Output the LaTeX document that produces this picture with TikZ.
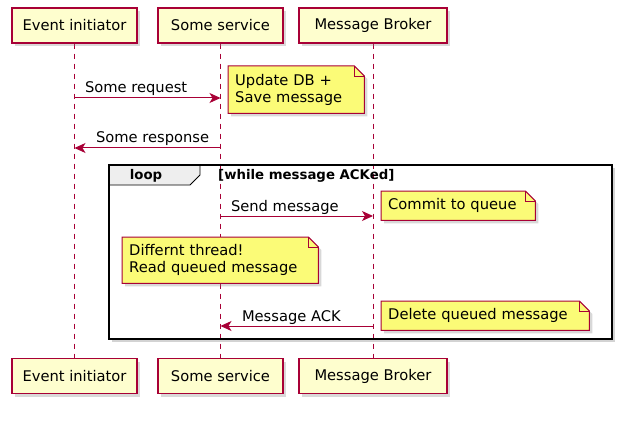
\documentclass[tikz,border=0pt]{standalone}
\usepackage{fontspec}
\setmainfont{DejaVu Sans}
\usetikzlibrary{arrows.meta,shadows,backgrounds}

\definecolor{umlred}{HTML}{A80036}
\definecolor{partfill}{HTML}{FEFECE}
\definecolor{notefill}{HTML}{FBFB77}
\definecolor{tabfill}{HTML}{EEEEEE}

\begin{document}
\begin{tikzpicture}[x=1pt,y=-1pt]

\tikzset{actor/.style={rectangle,draw=umlred,line width=1.2pt,fill=partfill,minimum height=35pt,inner sep=0pt,font=\fontsize{14.7}{17}\selectfont, drop shadow={opacity=0.3,shadow xshift=3pt,shadow yshift=-3pt}},}
\tikzset{mynote/.style={rectangle,anchor=north west,inner xsep=7pt,inner ysep=0pt,align=left,font=\fontsize{14.7}{17}\selectfont},}
\tikzset{notebg/.style={fill=notefill,draw=umlred,line width=1pt,drop shadow={opacity=0.3,shadow xshift=3pt,shadow yshift=-3pt}},}
\tikzset{msg/.style={-{Stealth[length=11pt,width=10pt,inset=3pt]},umlred,line width=1pt},}
\tikzset{msglabel/.style={anchor=base west,inner sep=0pt,font=\fontsize{14.7}{17}\selectfont,text=black},}
\tikzset{lifeline/.style={umlred,line width=1pt,dash pattern=on 5pt off 5pt},}

\useasboundingbox (0,0) rectangle (623,422);

  % participants
  \draw (74.5,25.5) node[actor,minimum width=125pt](initTop) {Event initiator};
  \draw (220.5,25.5) node[actor,minimum width=125pt](svcTop) {Some service};
  \draw (373,25.5) node[actor,minimum width=148pt](brokerTop) {Message Broker};
  \draw (74.5,376) node[actor,minimum width=125pt](initBot) {Event initiator};
  \draw (220.5,376) node[actor,minimum width=125pt](svcBot) {Some service};
  \draw (373,376) node[actor,minimum width=148pt](brokerBot) {Message Broker};

  % notes
  \node[mynote,text width=122pt,minimum height=47pt] (noteDB) at (228,66) {Update DB +\\Save message};
  \node[mynote,text width=140pt,minimum height=29pt] (noteCommit) at (381,191) {Commit to queue};
  \node[mynote,text width=182pt,minimum height=46pt] (noteThread) at (122,237) {Differnt thread!\\Read queued message};
  \node[mynote,text width=194pt,minimum height=29pt] (noteDelete) at (381,301) {Delete queued message};

  % message ends
  \coordinate (reqFrom) at (initTop |- 0,98);
  \coordinate (reqTo) at (svcTop |- 0,98);
  \coordinate (respFrom) at (svcTop |- 0,148);
  \coordinate (respTo) at (initTop |- 0,148);
  \coordinate (sendFrom) at (svcTop |- 0,216);
  \coordinate (sendTo) at (brokerTop |- 0,216);
  \coordinate (ackFrom) at (brokerTop |- 0,326);
  \coordinate (ackTo) at (svcTop |- 0,326);

  %edges
    \draw[msg] (reqFrom) -- (reqTo) node[msglabel,pos=0,xshift=10pt,yshift=5pt] {Some request};
    \draw[msg] (respFrom) -- (respTo) node[msglabel,pos=1,xshift=21pt,yshift=5pt] {Some response};
    \draw[msg] (sendFrom) -- (sendTo) node[msglabel,pos=0,xshift=10pt,yshift=5pt] {Send message};
    \draw[msg] (ackFrom) -- (ackTo) node[msglabel,pos=1,xshift=21pt,yshift=5pt] {Message ACK};

  % loop frame
  \filldraw[fill=tabfill,draw=black,line width=0.8pt] (109,165) -- (200,165) -- (200,175) -- (190,185) -- (109,185) -- cycle;
  \draw[black,line width=2pt] (109,165) rectangle (612,339);
  \node[font=\fontsize{13.3}{15}\selectfont\bfseries] (loopName) at (146,175.5) {loop};
  \node[anchor=west,inner sep=0pt,font=\fontsize{13.3}{15}\selectfont\bfseries] (loopCond) at (218,175.5) {[while message ACKed]};

\begin{pgfonlayer}{background}
  \fill[white,drop shadow={opacity=0.35,shadow xshift=3pt,shadow yshift=-3pt}] (109,165) rectangle (612,339);
  \foreach \p in {init,svc,broker}
    \draw[lifeline] (\p Top.south) -- (\p Bot.north);
  \foreach \n in {noteDB,noteCommit,noteThread,noteDelete}{
    \filldraw[notebg] (\n.south west) -- (\n.north west) -- ([xshift=-10pt]\n.north east) -- ([yshift=-10pt]\n.north east) -- (\n.south east) -- cycle;
    \draw[umlred,line width=0.8pt] ([xshift=-10pt]\n.north east) -- ([xshift=-10pt,yshift=-10pt]\n.north east) -- ([yshift=-10pt]\n.north east);
  }
\end{pgfonlayer}

\end{tikzpicture}
\end{document}
